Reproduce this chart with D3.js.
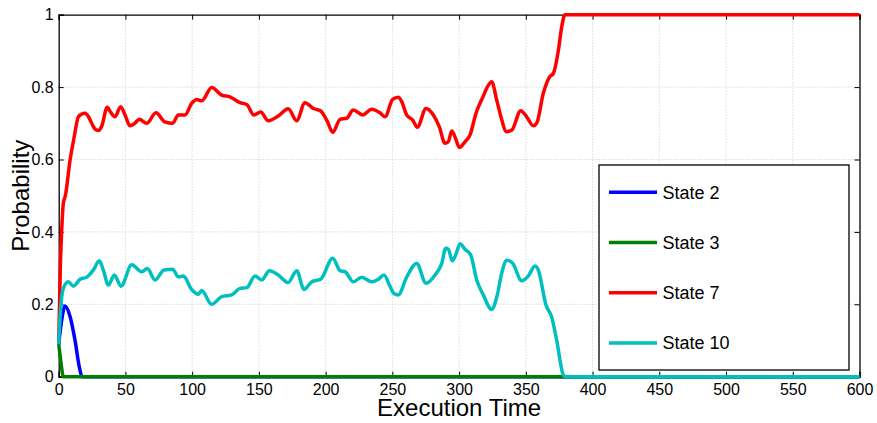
<!DOCTYPE html>
<html>
<head>
<meta charset="utf-8">
<script src="https://cdn.jsdelivr.net/npm/d3@7"></script>
<style>
body { margin: 0; background: #fff; }
text { font-family: "Liberation Sans", Arial, sans-serif; }
</style>
</head>
<body>
<div class="chart"></div>
<script>
var width = 877, height = 423;
var margin = {left: 58.7, right: 17.5, top: 14.7, bottom: 46.3};

// series data (time, probability)
var state2T = [0, 2, 4.7, 8.5, 12.2, 15.4, 17.5, 600];
var state2V = [0.09, 0.15, 0.195, 0.166, 0.101, 0.028, 0, 0];

var state3T = [0, 1, 2, 3.5, 600];
var state3V = [0.09, 0.06, 0.03, 0, 0];

var state7T = [0, 1.2, 2.2, 3.5, 5, 8.5, 11.5, 14.7, 17, 19.7, 22, 24.7, 27, 29.7, 32, 36.4, 39, 42.2, 46.4, 50, 53.4, 57, 60.4, 65.9, 72.9, 79.6, 85.4, 89.6, 94.6, 99.6, 103.4, 107.1, 114.6, 122.1, 128.3, 135.8, 140.9, 146.3, 151.3, 157, 164.5, 172, 178.3, 184.5, 190.8, 196.3, 201.2, 205.3, 210.8, 215.8, 220.7, 227.8, 234.5, 240.7, 244.5, 250.2, 254.4, 257, 260.7, 265.2, 268.7, 275.2, 280.7, 285.2, 289.4, 291.9, 294.5, 296.9, 300.2, 304.4, 308.2, 312.7, 318.1, 321.1, 324.4, 328.2, 332, 335.1, 339.4, 346.2, 350.6, 355.6, 358.1, 363.1, 367.6, 370.6, 374.4, 376.9, 379.3, 600];
var state7V = [0.09, 0.3, 0.4, 0.48, 0.5, 0.598, 0.66, 0.718, 0.725, 0.728, 0.72, 0.70, 0.685, 0.68, 0.69, 0.744, 0.73, 0.718, 0.746, 0.72, 0.693, 0.70, 0.711, 0.70, 0.729, 0.704, 0.70, 0.723, 0.723, 0.755, 0.766, 0.762, 0.799, 0.778, 0.773, 0.757, 0.752, 0.723, 0.731, 0.707, 0.72, 0.740, 0.707, 0.757, 0.741, 0.734, 0.706, 0.675, 0.711, 0.714, 0.737, 0.723, 0.739, 0.729, 0.718, 0.766, 0.772, 0.76, 0.723, 0.709, 0.689, 0.741, 0.723, 0.69, 0.645, 0.649, 0.679, 0.663, 0.633, 0.649, 0.668, 0.728, 0.775, 0.80, 0.815, 0.764, 0.709, 0.677, 0.681, 0.735, 0.718, 0.693, 0.70, 0.783, 0.827, 0.838, 0.902, 0.967, 1, 1];

var state10T = [0, 1.5, 3.5, 7.2, 11, 16, 21, 26, 30.4, 33.4, 37.2, 41.7, 46.7, 54.7, 62.2, 66.4, 72.2, 78.9, 85.4, 89.6, 93.4, 99.6, 104.6, 107.1, 114.6, 122.1, 129.6, 135.8, 140.9, 147.1, 152.1, 157.8, 164.5, 172, 178.3, 183.8, 189.6, 196.3, 205.3, 210.8, 214.5, 220.7, 227, 234.5, 239.5, 243.7, 248.2, 251.2, 254.4, 260.7, 268.2, 275.2, 282, 287, 290, 292, 294.9, 297.7, 300.7, 304.4, 308.7, 313.2, 318.1, 324.4, 328.6, 332, 335.7, 340.2, 346.9, 351.8, 356.9, 359.3, 365.1, 369.4, 373.1, 378.1, 380, 600];
var state10V = [0.09, 0.19, 0.244, 0.262, 0.25, 0.269, 0.275, 0.295, 0.32, 0.295, 0.253, 0.281, 0.25, 0.309, 0.29, 0.299, 0.267, 0.295, 0.297, 0.276, 0.278, 0.241, 0.228, 0.238, 0.20, 0.221, 0.226, 0.244, 0.246, 0.278, 0.267, 0.293, 0.281, 0.26, 0.293, 0.241, 0.262, 0.269, 0.327, 0.293, 0.29, 0.262, 0.275, 0.262, 0.269, 0.281, 0.25, 0.23, 0.226, 0.275, 0.313, 0.258, 0.281, 0.313, 0.355, 0.352, 0.32, 0.339, 0.367, 0.352, 0.336, 0.267, 0.226, 0.186, 0.226, 0.287, 0.322, 0.313, 0.265, 0.278, 0.306, 0.295, 0.198, 0.164, 0.101, 0.005, 0, 0];

var seriesNames = ["State 2", "State 3", "State 7", "State 10"];
var seriesColors = ["#0000ff", "#008000", "#ff0000", "#00bfbf"];
var seriesT = [state2T, state3T, state7T, state10T];
var seriesV = [state2V, state3V, state7V, state10V];

var xTicks = [0, 50, 100, 150, 200, 250, 300, 350, 400, 450, 500, 550, 600];
var yTicks = [0, 0.2, 0.4, 0.6, 0.8, 1];

var svg = d3.select(".chart").append("svg").attr("width", width).attr("height", height);

var x = d3.scaleLinear().domain([0, 600]).range([margin.left, width - margin.right]);
var y = d3.scaleLinear().domain([0, 1]).range([height - margin.bottom, margin.top]);

var x0 = x.range()[0], x1 = x.range()[1], y0 = y.range()[0], y1 = y.range()[1];

// grid
var grid = svg.append("g").attr("class", "grid");
grid.selectAll("line.vx").data(xTicks.slice(1, -1)).enter().append("line")
    .attr("x1", function(d) { return x(d); }).attr("x2", function(d) { return x(d); })
    .attr("y1", y0).attr("y2", y1)
    .style("stroke", "#c8c8c8").style("stroke-dasharray", "1,2").style("stroke-width", 1);
grid.selectAll("line.hy").data(yTicks.slice(1, -1)).enter().append("line")
    .attr("y1", function(d) { return y(d); }).attr("y2", function(d) { return y(d); })
    .attr("x1", x0).attr("x2", x1)
    .style("stroke", "#c8c8c8").style("stroke-dasharray", "1,2").style("stroke-width", 1);

// axes: ticks pointing inward, box on all sides
var xAxis = svg.append("g").attr("transform", "translate(0," + y0 + ")")
    .call(d3.axisTop(x).tickValues(xTicks).tickSize(5).tickFormat(""));
var xAxisLabels = svg.append("g").attr("transform", "translate(0," + y0 + ")")
    .call(d3.axisBottom(x).tickValues(xTicks).tickSize(0).tickPadding(7).tickFormat(d3.format("d")));
var xAxisTop = svg.append("g").attr("transform", "translate(0," + y1 + ")")
    .call(d3.axisBottom(x).tickValues(xTicks).tickSize(5).tickFormat(""));
var yAxis = svg.append("g").attr("transform", "translate(" + x0 + ",0)")
    .call(d3.axisRight(y).tickValues(yTicks).tickSize(5).tickFormat(""));
var yAxisLabels = svg.append("g").attr("transform", "translate(" + x0 + ",0)")
    .call(d3.axisLeft(y).tickValues(yTicks).tickSize(0).tickPadding(5).tickFormat(function(d) { return d3.format("~g")(d); }));
var yAxisRight = svg.append("g").attr("transform", "translate(" + x1 + ",0)")
    .call(d3.axisLeft(y).tickValues(yTicks).tickSize(5).tickFormat(""));

[xAxis, xAxisLabels, xAxisTop, yAxis, yAxisLabels, yAxisRight].forEach(function(a) {
    a.selectAll("path.domain").style("stroke", "#000").style("stroke-width", 1.3);
    a.selectAll(".tick line").style("stroke", "#000").style("stroke-width", 1);
    a.selectAll("text").style("font-size", "16px").style("fill", "#000")
        .style("font-family", "'Liberation Sans', Arial, sans-serif");
});
xAxisLabels.selectAll("path.domain").remove();
yAxisLabels.selectAll("path.domain").remove();

// lines (smoothed through the read points, no overshoot)
var line = d3.line().curve(d3.curveMonotoneX)
    .x(function(d) { return x(d[0]); }).y(function(d) { return y(d[1]); });
var lines = svg.append("g").attr("class", "lines");
seriesNames.forEach(function(name, i) {
    var pts = seriesT[i].map(function(t, j) { return [t, seriesV[i][j]]; });
    lines.append("path").datum(pts).attr("d", line)
        .style("fill", "none").style("stroke", seriesColors[i]).style("stroke-width", 3.5)
        .style("stroke-linejoin", "round").style("stroke-linecap", "butt");
});

// axis titles
svg.append("text").attr("x", (x0 + x1) / 2).attr("y", 416).attr("text-anchor", "middle")
    .style("font-size", "24px").text("Execution Time");
svg.append("text").attr("transform", "translate(29.3," + ((y0 + y1) / 2) + ") rotate(-90)")
    .attr("text-anchor", "middle").style("font-size", "24px").text("Probability");

// legend
var legend = svg.append("g").attr("class", "legend");
legend.append("rect").attr("x", 599).attr("y", 165).attr("width", 250).attr("height", 205)
    .style("fill", "#fff").style("stroke", "#000").style("stroke-width", 1.3);
seriesNames.forEach(function(name, i) {
    var ly = 192.3 + i * 50.2;
    legend.append("line").attr("x1", 609).attr("x2", 657).attr("y1", ly).attr("y2", ly)
        .style("stroke", seriesColors[i]).style("stroke-width", 3.5);
    legend.append("text").attr("x", 662.5).attr("y", ly).attr("dy", "0.36em")
        .style("font-size", "18px").text(name);
});
</script>
</body>
</html>
